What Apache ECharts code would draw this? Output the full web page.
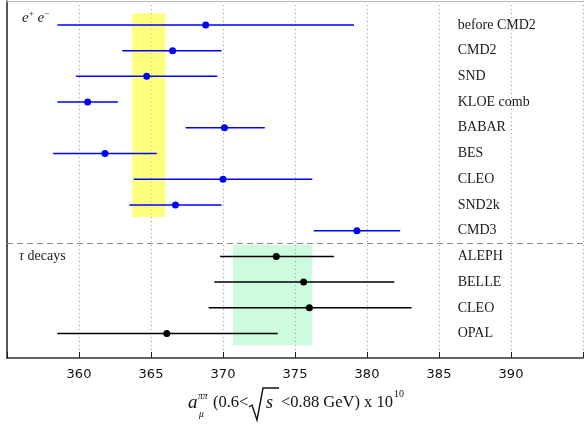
<!DOCTYPE html>
<html><head><meta charset="utf-8">
<script src="https://cdn.jsdelivr.net/npm/echarts@6/dist/echarts.min.js"></script>
<style>html,body{margin:0;padding:0;background:#fff}#c{width:586px;height:424px}</style>
</head><body><div id="c"></div>
<script>
const tickValues = [360, 365, 370, 375, 380, 385, 390];
const eeNames = ['before CMD2','CMD2','SND','KLOE comb','BABAR','BES','CLEO','SND2k','CMD3'];
const eeCenter = [368.8, 366.5, 364.7, 360.6, 370.1, 361.8, 370.0, 366.7, 379.3];
const eeLow    = [358.5, 363.0, 359.8, 358.5, 367.4, 358.2, 363.8, 363.5, 376.3];
const eeHigh   = [379.1, 369.9, 369.6, 362.7, 372.9, 365.4, 376.2, 369.9, 382.3];
const tauNames = ['ALEPH','BELLE','CLEO','OPAL'];
const tauCenter = [373.7, 375.6, 376.0, 366.1];
const tauLow    = [369.8, 369.4, 369.0, 358.5];
const tauHigh   = [377.7, 381.9, 383.1, 373.8];
const eeBand  = [363.7, 366.0];
const tauBand = [370.7, 376.2];

const LABEL_X = 386.3;
const SERIF = '"Liberation Serif", "DejaVu Serif", serif';

const eeData = eeNames.map((n, i) => [i, eeCenter[i], eeLow[i], eeHigh[i]]);
const tauData = tauNames.map((n, i) => [eeNames.length + i, tauCenter[i], tauLow[i], tauHigh[i]]);

function makeRender(names, color) {
  return function (params, api) {
    const row = api.value(0), c = api.value(1), lo = api.value(2), hi = api.value(3);
    const pL = api.coord([lo, row]), pH = api.coord([hi, row]), pC = api.coord([c, row]);
    const pT = api.coord([LABEL_X, row]);
    return {
      type: 'group',
      children: [
        { type: 'line', shape: { x1: pL[0], y1: pL[1], x2: pH[0], y2: pH[1] }, style: { stroke: color, lineWidth: 1.5 } },
        { type: 'circle', shape: { cx: pC[0], cy: pC[1], r: 3.5 }, style: { fill: color } },
        { type: 'text', style: { text: names[params.dataIndex], x: pT[0], y: pT[1], verticalAlign: 'middle', align: 'left', font: '14px ' + SERIF, fill: '#1a1a1a' } }
      ]
    };
  };
}

const chart = echarts.init(document.getElementById('c'), null, { renderer: 'canvas' });
chart.setOption({
  animation: false,
  backgroundColor: '#fff',
  grid: { left: 7, right: 0, top: 1, bottom: 66 },
  xAxis: [{
    type: 'value', min: 355, max: 395, interval: 5, position: 'bottom',
    axisLine: { onZero: false, lineStyle: { color: '#333', width: 1.5 } },
    axisTick: { show: true, inside: true, length: 6, lineStyle: { color: '#222', width: 1 } },
    axisLabel: {
      margin: 10, color: '#111', fontFamily: '"DejaVu Sans", sans-serif', fontSize: 13,
      formatter: v => tickValues.includes(v) ? String(v) : ''
    },
    splitLine: { show: true, lineStyle: { color: '#999', type: [1, 3], width: 1 } }
  }, {
    type: 'value', min: 355, max: 395, position: 'top',
    axisLine: { show: true, onZero: false, lineStyle: { color: '#bbb', width: 1 } },
    axisTick: { show: false }, axisLabel: { show: false }, splitLine: { show: false }
  }],
  yAxis: {
    type: 'value', min: -0.93, max: 12.95, inverse: true,
    axisLine: { show: true, onZero: false, lineStyle: { color: '#222', width: 1.5 } },
    axisTick: { show: false }, axisLabel: { show: false }, splitLine: { show: false }
  },
  series: [
    {
      type: 'line', data: [], silent: true,
      markArea: {
        silent: true,
        data: [
          [{ coord: [eeBand[0], -0.45], itemStyle: { color: 'rgba(255,255,0,0.5)' } }, { coord: [eeBand[1], 7.47] }],
          [{ coord: [tauBand[0], 8.55], itemStyle: { color: 'rgba(0,238,85,0.2)' } }, { coord: [tauBand[1], 12.45] }]
        ]
      },
      markLine: {
        silent: true, symbol: 'none', label: { show: false },
        lineStyle: { color: '#888', type: [6, 4], width: 1.2 },
        data: [{ yAxis: 8.5 }]
      }
    },
    { type: 'custom', renderItem: makeRender(eeNames, '#0000ff'), data: eeData, encode: { x: [1, 2, 3], y: 0 }, z: 5 },
    { type: 'custom', renderItem: makeRender(tauNames, '#000000'), data: tauData, encode: { x: [1, 2, 3], y: 0 }, z: 5 }
  ],
  graphic: [
    { type: 'text', left: 22, top: 9, style: { text: '{e|e}{s|+}{e| e}{s|−}', rich: { e: { font: 'italic 15px ' + SERIF, fill: '#222' }, s: { font: '9px ' + SERIF, fill: '#222', padding: [0, 0, 9, 0] } } } },
    { type: 'text', left: 19, top: 249, style: { text: '{t|τ} decays', font: '14px ' + SERIF, fill: '#222', rich: { t: { font: 'italic 14px ' + SERIF, fill: '#222' } } } },
    { type: 'text', x: 188, y: 412, style: { text: 'a', font: 'italic 19px ' + SERIF, fill: '#111', verticalAlign: 'bottom' } },
    { type: 'text', x: 198, y: 401, style: { text: 'ππ', font: 'italic 9.5px ' + SERIF, fill: '#111', verticalAlign: 'bottom' } },
    { type: 'text', x: 199, y: 419, style: { text: 'μ', font: 'italic 9.5px ' + SERIF, fill: '#111', verticalAlign: 'bottom' } },
    { type: 'text', x: 213, y: 411, style: { text: '(0.6<', font: '16.5px ' + SERIF, fill: '#111', verticalAlign: 'bottom' } },
    { type: 'polyline', shape: { points: [[249, 407], [252, 405], [257, 420], [263, 388], [279, 388]] }, style: { stroke: '#111', lineWidth: 1.4, fill: null } },
    { type: 'text', x: 266, y: 412, style: { text: 's', font: 'italic 18px ' + SERIF, fill: '#111', verticalAlign: 'bottom' } },
    { type: 'text', x: 281, y: 411, style: { text: '<0.88 GeV) x 10', font: '16.5px ' + SERIF, fill: '#111', verticalAlign: 'bottom' } },
    { type: 'text', x: 394, y: 399, style: { text: '10', font: '10px ' + SERIF, fill: '#111', verticalAlign: 'bottom' } }
  ]
});
</script>
</body></html>
